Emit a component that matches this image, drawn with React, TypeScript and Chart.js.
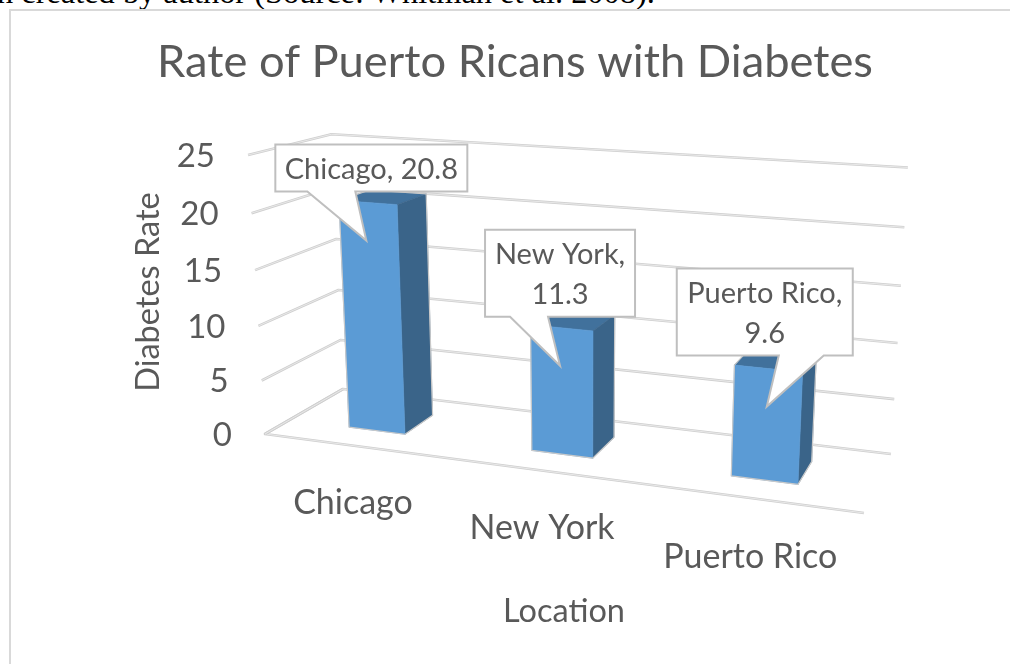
import React, { useEffect, useRef } from "react";
import { Chart, registerables } from "chart.js";

Chart.register(...registerables);

// Chart content
const chartTitle = "Rate of Puerto Ricans with Diabetes";
const yAxisTitle = "Diabetes Rate";
const xAxisTitle = "Location";
const categories = ["Chicago", "New York", "Puerto Rico"];
const diabetesRates = [20.8, 11.3, 9.6];
const yMax = 25;
const yStep = 5;
const calloutLines = [["Chicago, 20.8"], ["New York,", "11.3"], ["Puerto Rico,", "9.6"]];
const captionText = "n created by author (Source: Whitman et al. 2008).";

// Camera of the plot box: floor corners, the vanishing point of its verticals,
// and the weight that sets the height of the value axis
type Pt = [number, number];
const floorQuad: Pt[] = [[265, 434], [864, 513], [891, 454], [343, 389]];
const verticalVanish: Pt = [584, 5673];
const heightWeight = -0.05056;
const barDepthFront = 0.3;
const barDepthBack = 0.7;

// Callout boxes relative to the pointer tip: [left, right, top, bottom, baseLeft, baseRight]
const calloutBoxes = [
  [-91, 101, -96, -49, -59, -11],
  [-75, 75, -136, -49, -50, -12],
  [-90, 86, -138, -51, 12, 57],
];
const categoryLabelOffsets: Pt[] = [[-1, 57], [-2, 57], [-2, 59]];

const textColor = "#595959";
const frontColor = "#5b9bd5";
const sideColor = "#3a6489";
const topColor = "#41719c";
const barEdge = "#c9c9c9";
const fontFamily = "Lato, Carlito, sans-serif";

// Homogeneous coefficients of the unit square mapped onto a quad (order: 00, 10, 11, 01)
function squareToQuad(q: Pt[]) {
  const [[x0, y0], [x1, y1], [x2, y2], [x3, y3]] = q;
  const dx1 = x1 - x2, dx2 = x3 - x2, sx = x0 - x1 + x2 - x3;
  const dy1 = y1 - y2, dy2 = y3 - y2, sy = y0 - y1 + y2 - y3;
  const den = dx1 * dy2 - dx2 * dy1;
  const g = (sx * dy2 - dx2 * sy) / den;
  const h = (dx1 * sy - sx * dy1) / den;
  return {
    a: x1 - x0 + g * x1, b: x3 - x0 + h * x3, c: x0,
    d: y1 - y0 + g * y1, e: y3 - y0 + h * y3, f: y0,
    g, h,
  };
}

const cam = squareToQuad(floorQuad);

// u: along the categories, v: along the values, w: into the depth; all 0..1
function project(u: number, v: number, w: number): Pt {
  const k = heightWeight * v;
  const n = cam.g * u + cam.h * w + 1 + k;
  return [
    (cam.a * u + cam.b * w + cam.c + k * verticalVanish[0]) / n,
    (cam.d * u + cam.e * w + cam.f + k * verticalVanish[1]) / n,
  ];
}

function tracePath(ctx: CanvasRenderingContext2D, pts: Pt[]) {
  ctx.beginPath();
  pts.forEach((p, i) => (i ? ctx.lineTo(p[0], p[1]) : ctx.moveTo(p[0], p[1])));
}

// A bar face; the thin self-coloured stroke closes the seams between faces
function face(ctx: CanvasRenderingContext2D, pts: Pt[], fill: string) {
  tracePath(ctx, pts);
  ctx.closePath();
  ctx.fillStyle = fill;
  ctx.fill();
  ctx.strokeStyle = fill;
  ctx.lineWidth = 0.6;
  ctx.stroke();
}

function gridStroke(ctx: CanvasRenderingContext2D, pts: Pt[]) {
  ctx.lineJoin = "round";
  ctx.strokeStyle = "#cfcfcf";
  ctx.lineWidth = 2.6;
  tracePath(ctx, pts);
  ctx.stroke();
  ctx.strokeStyle = "#efefef";
  ctx.lineWidth = 0.8;
  tracePath(ctx, pts);
  ctx.stroke();
}

function text(ctx: CanvasRenderingContext2D, s: string, x: number, y: number, size: number, align: CanvasTextAlign) {
  ctx.font = `${size}px ${fontFamily}`;
  ctx.fillStyle = textColor;
  ctx.textAlign = align;
  ctx.textBaseline = "middle";
  ctx.fillText(s, x, y);
}

// Draws the walls, the bars and all labels in perspective from the chart's own scales
const perspectiveBars = {
  id: "perspectiveBars",
  beforeDatasetsDraw(chart: any) {
    const { ctx, chartArea: area, scales } = chart;
    const yScale = scales.y;
    ctx.save();

    yScale.ticks.forEach((tick: any) => {
      const v = (area.bottom - yScale.getPixelForValue(tick.value)) / area.height;
      if (tick.value === 0) {
        gridStroke(ctx, [project(0, 0, 1), project(0, 0, 0), project(1, 0, 0)]);
      }
      gridStroke(ctx, [project(0, v, 0), project(0, v, 1), project(1, v, 1)]);
      const front = project(0, v, 0);
      text(ctx, String(tick.value), front[0] - 33, front[1] + 1, 33, "right");
    });

    const meta = chart.getDatasetMeta(0);
    meta.data.forEach((bar: any) => {
      const uL = (bar.x - bar.width / 2 - area.left) / area.width;
      const uR = (bar.x + bar.width / 2 - area.left) / area.width;
      const v = (area.bottom - bar.y) / area.height;
      const [wF, wB] = [barDepthFront, barDepthBack];
      face(ctx, [project(uL, v, wF), project(uR, v, wF), project(uR, v, wB), project(uL, v, wB)], topColor);
      face(ctx, [project(uR, 0, wF), project(uR, 0, wB), project(uR, v, wB), project(uR, v, wF)], sideColor);
      face(ctx, [project(uL, 0, wF), project(uR, 0, wF), project(uR, v, wF), project(uL, v, wF)], frontColor);

      // Soft outline around the whole column
      tracePath(ctx, [
        project(uL, 0, wF), project(uR, 0, wF), project(uR, 0, wB),
        project(uR, v, wB), project(uL, v, wB), project(uL, v, wF),
      ]);
      ctx.closePath();
      ctx.strokeStyle = barEdge;
      ctx.lineWidth = 1.2;
      ctx.lineJoin = "round";
      ctx.stroke();
    });
    ctx.restore();
  },
  afterDatasetsDraw(chart: any) {
    const { ctx, chartArea: area, scales } = chart;
    const meta = chart.getDatasetMeta(0);
    ctx.save();

    meta.data.forEach((bar: any, i: number) => {
      const u = (bar.x - area.left) / area.width;
      const v = (area.bottom - bar.y) / area.height;

      // Callout with its pointer, anchored below the middle of the bar's front top
      const anchor = project(u, v, barDepthFront);
      const tip: Pt = [anchor[0] - 1.5, anchor[1] + 38];
      const [l, r, t, b, bl, br] = calloutBoxes[i];
      tracePath(ctx, [
        [tip[0] + l, tip[1] + t],
        [tip[0] + r, tip[1] + t],
        [tip[0] + r, tip[1] + b],
        [tip[0] + br, tip[1] + b],
        tip,
        [tip[0] + bl, tip[1] + b],
        [tip[0] + l, tip[1] + b],
      ]);
      ctx.closePath();
      ctx.fillStyle = "#ffffff";
      ctx.fill();
      ctx.strokeStyle = "#bfbfbf";
      ctx.lineWidth = 2;
      ctx.lineJoin = "miter";
      ctx.stroke();

      const lines = calloutLines[i];
      const cx = tip[0] + (l + r) / 2;
      const cy = tip[1] + (t + b) / 2;
      lines.forEach((line, k) => {
        text(ctx, line, cx, cy + (k - (lines.length - 1) / 2) * 40 + 1.5, 29, "center");
      });

      // Category label under the front edge of the floor
      const base = project(u, 0, 0);
      const off = categoryLabelOffsets[i];
      text(ctx, scales.x.getLabelForValue(i), base[0] + off[0], base[1] + off[1], 34, "center");
    });

    // Axis titles
    text(ctx, xAxisTitle, 564, 612, 32.5, "center");
    ctx.translate(149, 292);
    ctx.rotate(-Math.PI / 2);
    text(ctx, yAxisTitle, 0, 0, 32.5, "center");
    ctx.restore();
  },
};

export default function App() {
  const canvasRef = useRef<HTMLCanvasElement | null>(null);

  useEffect(() => {
    const chart = new Chart(canvasRef.current as HTMLCanvasElement, {
      type: "bar",
      data: {
        labels: categories,
        datasets: [
          {
            label: yAxisTitle,
            data: diabetesRates,
            backgroundColor: "rgba(0,0,0,0)",
            borderWidth: 0,
            barPercentage: 0.315,
            categoryPercentage: 1,
          },
        ],
      },
      options: {
        animation: false,
        responsive: false,
        layout: { padding: { left: 20 } },
        plugins: {
          legend: { display: false },
          tooltip: { enabled: false },
          title: {
            display: true,
            text: chartTitle,
            color: textColor,
            font: { family: fontFamily, size: 45.3, weight: "normal" },
            padding: { top: 35, bottom: 10 },
          },
        },
        scales: {
          x: { display: false },
          y: { display: false, min: 0, max: yMax, ticks: { stepSize: yStep } },
        },
      },
      plugins: [perspectiveBars],
    } as any);
    return () => chart.destroy();
  }, []);

  return (
    <div style={{ position: "fixed", inset: 0, overflow: "hidden", background: "#fff" }}>
      <div
        style={{
          position: "absolute",
          left: -3,
          top: -26,
          whiteSpace: "nowrap",
          fontFamily: "'Liberation Serif', serif",
          fontSize: 32.4,
          lineHeight: "36px",
          color: "#000",
        }}
      >
        {captionText}
      </div>
      <div
        style={{
          position: "absolute",
          left: 9,
          top: 9,
          right: -4,
          bottom: -4,
          borderLeft: "2px solid #d9d9d9",
          borderTop: "2px solid #d9d9d9",
        }}
      />
      <canvas ref={canvasRef} width={1010} height={664} style={{ position: "absolute", left: 0, top: 0 }} />
    </div>
  );
}
